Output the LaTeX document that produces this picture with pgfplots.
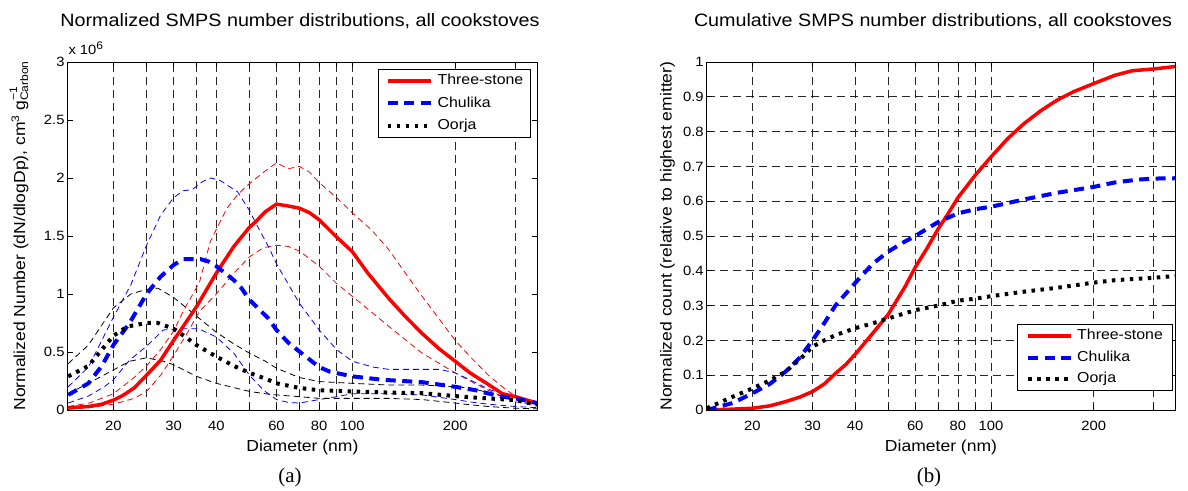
\documentclass[border=0pt]{standalone}
\usepackage{fontspec}
\setmainfont{Liberation Sans}[FakeStretch=1.1]
\newfontfamily\seriffont{Liberation Serif}
\usepackage{pgfplots}
\pgfplotsset{compat=1.18}
\newcommand\tickfont{\fontsize{13.5}{15}\selectfont}
\newcommand\labfont{\fontsize{16}{18}\selectfont}
\newcommand\legfont{\fontsize{14.5}{16}\selectfont}
\newcommand\titfont{\fontsize{18}{20}\selectfont}
\newcommand\smf[1]{\mbox{\fontsize{11}{11}\selectfont #1}}
\tikzset{
  rthickline/.style={red, line width=3.5bp, solid},
  bthickline/.style={blue, line width=4bp, dash pattern=on 10bp off 6.5bp},
  kthickline/.style={black, line width=4bp, dash pattern=on 3.5bp off 5.5bp},
  thinline/.style={line width=0.8bp, dash pattern=on 6bp off 4bp},
}
\pgfplotsset{
  legend image code/.code={\draw[#1] (0bp,0bp) -- (43bp,0bp);},
}
\begin{document}
\begin{tikzpicture}
\useasboundingbox (0,0) rectangle (1188bp,491bp);
% ---------- panel (a)
\begin{axis}[xmode=log, scale only axis, height=348bp, width=469.3bp,
  at={(67.7bp,81bp)}, anchor=south west,
  xmin=14.7, xmax=347, ymin=0, ymax=3, ytick={0,0.5,1,1.5,2,2.5,3},
  xtick={20,25,30,35,40,50,60,70,80,90,100,200,300},
  xticklabels={20,,30,,40,,60,,80,,100,200,},
  axis line style={line width=0.9bp, black},
  tick align=inside, tick pos=both, major tick length=5bp,
  xminorticks=false, yminorticks=false,
  tick style={line width=0.6bp, black},
  ticklabel style={font=\tickfont},
  yticklabel style={inner sep=0pt, xshift=-3bp, /pgf/number format/assume math mode=true},
  xticklabel style={inner sep=0pt, yshift=-10.5bp},
  grid style={black!85, line width=0.6bp, dash pattern=on 8bp off 5bp},
  xmajorgrids,
  legend cell align=left,
  legend style={draw=black, line width=0.8bp, fill=white, font=\legfont,
    inner xsep=7bp, inner ysep=4.5bp, column sep=5bp, row sep=9bp,
    nodes={inner sep=0pt, text height=10.5bp, text depth=3bp},
    at={(1,1)}, anchor=north east, xshift=-6.3bp, yshift=-7.3bp}]
\addplot[red, thinline, forget plot] coordinates {(14.75,0.03)(17,0.06)(20,0.14)(23,0.28)(25,0.38)(27.5,0.52)(30,0.68)(32,0.85)(35.7,1.10)(38.4,1.45)(41,1.62)(43,1.74)(46,1.85)(49,1.93)(55,2.05)(60,2.13)(65,2.08)(70,2.10)(75,2.05)(80,1.96)(90,1.83)(100,1.70)(114,1.55)(128,1.38)(143,1.18)(160,0.98)(180,0.78)(200,0.60)(221,0.46)(250,0.30)(280,0.18)(300,0.12)(347,0.07)};
\addplot[red, thinline, forget plot] coordinates {(14.75,0.005)(17,0.02)(20,0.05)(23,0.10)(25,0.16)(27.5,0.30)(30,0.47)(33,0.67)(35.7,0.85)(40,1.0)(45,1.18)(50,1.32)(55,1.40)(60,1.42)(65,1.41)(70,1.37)(80,1.24)(90,1.09)(100,0.98)(128,0.72)(160,0.49)(200,0.32)(221,0.25)(250,0.17)(300,0.07)(347,0.04)};
\addplot[blue, thinline, forget plot] coordinates {(14.75,0.20)(16.9,0.37)(20,0.80)(22.5,1.08)(25,1.42)(27.5,1.68)(30,1.83)(32,1.89)(34,1.90)(36.5,1.97)(38.5,2.0)(41,1.98)(44,1.92)(46.2,1.88)(50,1.72)(52,1.62)(56.8,1.41)(60,1.26)(70,0.92)(80,0.69)(90,0.52)(100,0.42)(115,0.37)(128,0.35)(160,0.35)(180,0.35)(200,0.32)(221,0.26)(250,0.18)(300,0.10)(347,0.05)};
\addplot[blue, thinline, forget plot] coordinates {(14.75,0.06)(16.9,0.12)(18.8,0.20)(20,0.26)(22.3,0.43)(25,0.55)(28,0.69)(31,0.70)(35.5,0.70)(40,0.63)(45,0.49)(50,0.30)(55,0.17)(60,0.09)(65,0.065)(70,0.06)(80,0.09)(90,0.115)(100,0.14)(128,0.14)(160,0.13)(200,0.09)(221,0.07)(250,0.05)(300,0.03)(347,0.02)};
\addplot[black, thinline, forget plot] coordinates {(14.75,0.40)(16.9,0.56)(20,0.88)(22.5,1.0)(25,1.04)(27,1.05)(30,0.97)(35,0.81)(40,0.67)(45,0.57)(50,0.49)(55.7,0.42)(60,0.36)(70,0.28)(80,0.245)(100,0.23)(128,0.215)(160,0.215)(200,0.20)(221,0.19)(250,0.15)(300,0.09)(347,0.04)};
\addplot[black, thinline, forget plot] coordinates {(14.75,0.14)(16.9,0.23)(20,0.345)(22.3,0.42)(25,0.45)(28,0.42)(30,0.39)(35,0.29)(40,0.23)(50,0.16)(55.7,0.14)(60,0.13)(70,0.115)(80,0.10)(100,0.10)(128,0.10)(160,0.09)(200,0.06)(221,0.045)(250,0.03)(300,0.015)(347,0.01)};
\addplot[rthickline] coordinates {(14.75,0.02)(16.9,0.03)(18.5,0.05)(20,0.085)(21.3,0.125)(23,0.19)(25,0.30)(27.5,0.43)(30,0.60)(32.5,0.75)(35,0.89)(37.5,1.04)(40,1.18)(45,1.41)(50,1.575)(52,1.62)(55.7,1.71)(60,1.775)(64.5,1.76)(70,1.74)(75,1.70)(80,1.64)(90,1.49)(100,1.365)(111,1.18)(128,0.96)(143,0.805)(160,0.66)(179,0.53)(200,0.42)(221,0.32)(247,0.23)(275,0.14)(300,0.115)(320,0.09)(347,0.06)};
\addlegendentry{Three-stone}
\addplot[bthickline] coordinates {(14.75,0.13)(16.9,0.23)(18.5,0.38)(20,0.56)(22.3,0.75)(25,1.0)(27.5,1.15)(30,1.25)(32,1.30)(36,1.30)(38,1.28)(40,1.24)(45,1.12)(47.4,1.05)(50,0.95)(56.8,0.79)(60,0.69)(65,0.58)(71.7,0.48)(80,0.37)(86,0.33)(100,0.29)(123,0.26)(160,0.24)(200,0.20)(230,0.17)(268,0.12)(300,0.10)(347,0.06)};
\addlegendentry{Chulika}
\addplot[kthickline] coordinates {(14.75,0.29)(16.9,0.38)(18.5,0.52)(20,0.64)(22,0.72)(25,0.75)(27,0.75)(30,0.70)(32.5,0.63)(35,0.56)(40,0.46)(45,0.38)(50,0.32)(55.7,0.27)(60,0.23)(70,0.19)(80,0.17)(100,0.16)(128,0.15)(160,0.145)(200,0.12)(221,0.11)(250,0.10)(300,0.085)(347,0.045)};
\addlegendentry{Oorja}
\end{axis}
% ---------- panel (b)
\begin{axis}[xmode=log, scale only axis, height=348bp, width=468.5bp,
  at={(706.8bp,81bp)}, anchor=south west,
  xmin=14.7, xmax=347, ymin=0, ymax=1, ytick={0,0.1,0.2,0.3,0.4,0.5,0.6,0.7,0.8,0.9,1},
  xtick={20,30,40,50,60,70,80,90,100,200,300},
  xticklabels={20,30,40,,60,,80,,100,200,},
  axis line style={line width=0.9bp, black},
  tick align=inside, tick pos=both, major tick length=5bp,
  xminorticks=false, yminorticks=false,
  tick style={line width=0.6bp, black},
  ticklabel style={font=\tickfont},
  yticklabel style={inner sep=0pt, xshift=-3bp, /pgf/number format/assume math mode=true},
  xticklabel style={inner sep=0pt, yshift=-10.5bp},
  grid style={black!85, line width=0.6bp, dash pattern=on 8bp off 5bp},
  xmajorgrids, ymajorgrids,
  legend cell align=left,
  legend style={draw=black, line width=0.8bp, fill=white, font=\legfont,
    inner xsep=9bp, inner ysep=4.5bp, column sep=4bp, row sep=8bp,
    nodes={inner sep=0pt, text height=10.5bp, text depth=3bp},
    at={(1,0)}, anchor=south east, xshift=-3bp, yshift=19.3bp}]
\addplot[rthickline] coordinates {(14.7,0)(17,0.002)(20,0.005)(22.5,0.012)(25,0.024)(27.5,0.037)(30,0.053)(32.5,0.075)(35,0.105)(37.5,0.13)(40,0.16)(45,0.22)(50,0.275)(56,0.354)(60,0.41)(65,0.465)(70,0.52)(75,0.565)(80,0.61)(90,0.675)(100,0.727)(112,0.78)(125,0.823)(140,0.86)(156,0.89)(175,0.915)(200,0.938)(231,0.962)(260,0.975)(300,0.98)(347,0.987)};
\addlegendentry{Three-stone\hspace{7bp}}
\addplot[bthickline] coordinates {(14.7,0)(17.5,0.02)(20,0.048)(22.5,0.075)(25,0.11)(27.5,0.15)(30,0.20)(32.5,0.25)(35,0.30)(40,0.365)(45,0.42)(50,0.455)(55,0.48)(60,0.50)(70,0.54)(80,0.565)(90,0.577)(100,0.584)(125,0.605)(156,0.624)(200,0.641)(231,0.654)(270,0.662)(300,0.665)(347,0.666)};
\addlegendentry{Chulika}
\addplot[kthickline] coordinates {(14.7,0.005)(17.5,0.038)(20,0.062)(22.5,0.085)(25,0.11)(27.5,0.145)(30,0.182)(32.5,0.20)(35,0.215)(40,0.235)(45,0.249)(50,0.263)(60,0.287)(70,0.30)(80,0.314)(90,0.32)(100,0.327)(125,0.34)(156,0.351)(200,0.366)(231,0.373)(300,0.38)(347,0.385)};
\addlegendentry{Oorja}
\end{axis}
% ---------- texts
\node[anchor=base, font=\titfont, inner sep=0pt] at (300bp,464.3bp) {Normalized SMPS number distributions, all cookstoves};
\node[anchor=base, font=\titfont, inner sep=0pt] at (933bp,464.3bp) {Cumulative SMPS number distributions, all cookstoves};
\node[anchor=base west, font=\tickfont, inner sep=0pt] at (68.3bp,436bp) {x 10\raisebox{5bp}{\smf{6}}};
\node[anchor=base, font=\labfont, inner sep=0pt] at (302.4bp,39.3bp) {Diameter (nm)};
\node[anchor=base, font=\labfont, inner sep=0pt] at (941bp,39.3bp) {Diameter (nm)};
\node[anchor=base, font=\labfont, inner sep=0pt, rotate=90] at (25bp,255bp) {Normalized Number (dN/dlogDp), cm\raisebox{6bp}{\smf{3}} g\rlap{\raisebox{8bp}{\smf{−1}}}\raisebox{-3bp}{\smf{Carbon}}};
\node[anchor=base, font=\labfont, inner sep=0pt, rotate=90] at (671.7bp,255bp) {Normalized count (relative to highest emitter)};
\node[anchor=base, font={\seriffont\fontsize{21}{23}\selectfont}, inner sep=0pt] at (290bp,8.5bp) {(a)};
\node[anchor=base, font={\seriffont\fontsize{21}{23}\selectfont}, inner sep=0pt] at (929bp,8.5bp) {(b)};
\end{tikzpicture}
\end{document}
